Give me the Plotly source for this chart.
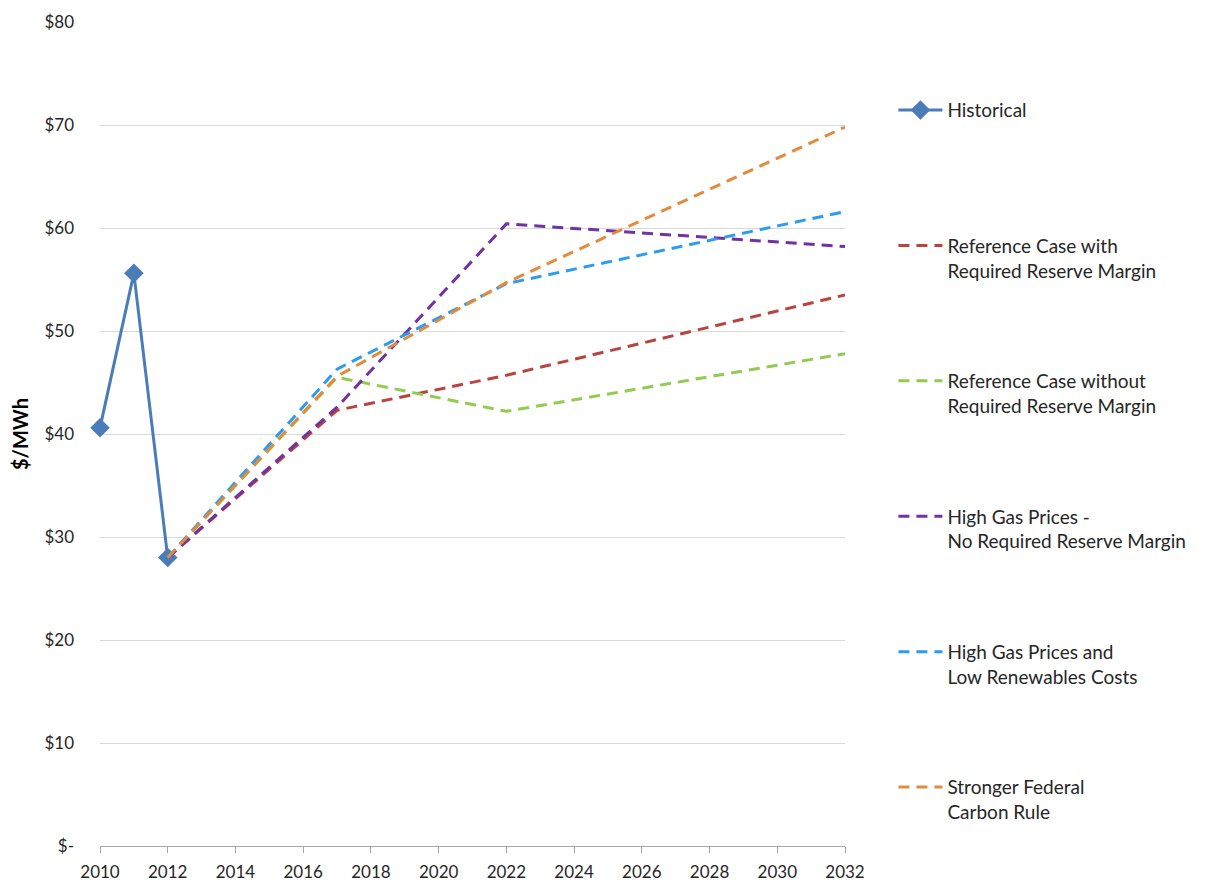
import plotly.graph_objects as go

hist_years = [2010, 2011, 2012]
hist_vals = [40.6, 55.6, 28.0]

proj_years = [2012, 2017, 2022, 2032]
ref_rrm = [28.0, 42.3, 45.7, 53.5]
ref_no_rrm = [28.0, 45.5, 42.2, 47.8]
high_gas_no_rrm = [28.0, 42.6, 60.4, 58.2]
high_gas_low_ren = [28.0, 46.3, 54.6, 61.6]
carbon_rule = [28.0, 45.6, 54.7, 69.8]

names = [
    "Reference Case with<br>Required Reserve Margin",
    "Reference Case without<br>Required Reserve Margin",
    "High Gas Prices -<br>No Required Reserve Margin",
    "High Gas Prices and<br>Low Renewables Costs",
    "Stronger Federal<br>Carbon Rule",
]
series = [ref_rrm, ref_no_rrm, high_gas_no_rrm, high_gas_low_ren, carbon_rule]
colors = ["#B8433F", "#92CC4E", "#7232A0", "#2A9CF2", "#E38B3C"]

y_ticks = [0, 10, 20, 30, 40, 50, 60, 70, 80]
y_labels = ["$-", "$10", "$20", "$30", "$40", "$50", "$60", "$70", "$80"]
x_ticks = list(range(2010, 2033, 2))

fig = go.Figure()
fig.add_trace(go.Scatter(
    x=hist_years, y=hist_vals, name="Historical<br>&nbsp;", mode="lines+markers",
    line=dict(color="#4A7CB8", width=3),
    marker=dict(symbol="diamond", size=15, color="#4A7CB8"),
    legendgroup="h", cliponaxis=False,
))
for i, (nm, vals, c) in enumerate(zip(names, series, colors)):
    fig.add_trace(go.Scatter(
        x=proj_years, y=vals, name=nm, mode="lines",
        line=dict(color=c, width=3, dash="11px,7px"),
        legendgroup=f"g{i}", cliponaxis=False,
    ))

fig.update_layout(
    width=1206, height=878,
    margin=dict(l=92, r=369, t=14, b=40),
    paper_bgcolor="white", plot_bgcolor="white",
    font=dict(family="Lato, Open Sans, sans-serif", size=17, color="#262626"),
    showlegend=True,
    legend=dict(
        x=1.065, y=0.916, xanchor="left", yanchor="top",
        tracegroupgap=83, valign="top",
        font=dict(size=19, color="#262626"),
        itemwidth=44,
    ),
    xaxis=dict(
        range=[2010, 2032], tickvals=x_ticks, ticktext=[str(t) for t in x_ticks],
        showgrid=False, showline=True, linecolor="#A6A6A6", linewidth=1,
        ticks="outside", ticklen=6, tickcolor="#A6A6A6", ticklabelstandoff=5,
        zeroline=False, tickfont=dict(size=17), automargin=False,
    ),
    yaxis=dict(
        range=[0, 80], tickvals=y_ticks, ticktext=y_labels,
        showgrid=True, gridcolor="#D9D9D9", gridwidth=1,
        showline=False, zeroline=False, ticks="", ticklabelstandoff=25,
        title=dict(text="<b>$/MWh</b>", font=dict(size=20, color="#000000"), standoff=18),
        tickfont=dict(size=17), automargin=False,
    ),
)

fig.write_html("out.html")
